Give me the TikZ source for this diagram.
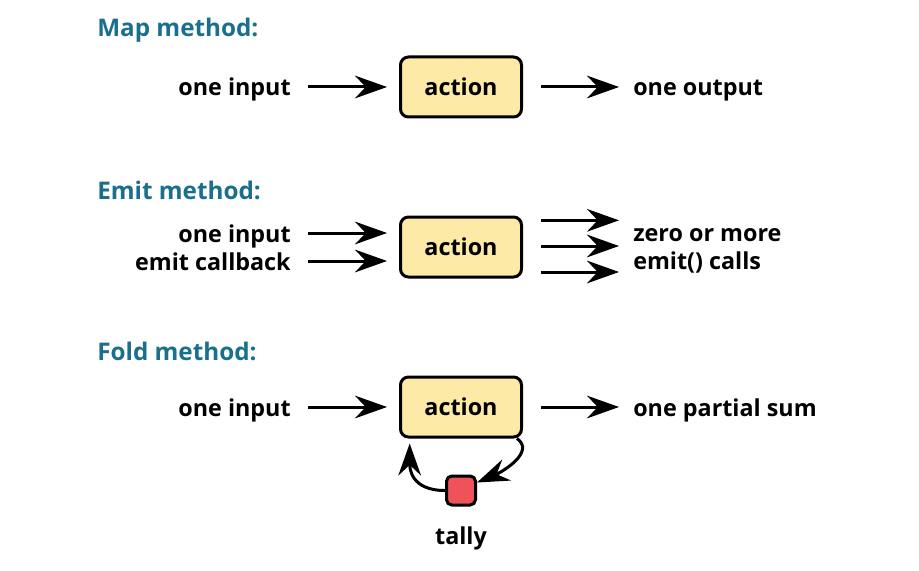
\documentclass[tikz,border=0pt]{standalone}
\usepackage{fontspec}
\setmainfont{Open Sans}
\usepackage{xcolor}
\usepackage{tikz}
\usetikzlibrary{positioning}
\usetikzlibrary{arrows.meta}

\definecolor{headblue}{RGB}{26,111,140}
\definecolor{boxyellow}{RGB}{253,234,166}
\definecolor{tallyred}{RGB}{240,82,90}

\tikzset{
	head/.style={anchor=west, inner sep=0pt, font=\fontsize{18.2}{22}\selectfont\bfseries, text=headblue},
	txt/.style={inner sep=0pt, font=\fontsize{17.5}{20}\selectfont\bfseries, text height=17.5pt, text depth=4pt},
	actbox/.style={draw, line width=2.25pt, rounded corners=6pt, fill=boxyellow,
		minimum width=90.75pt, minimum height=45pt, font=\fontsize{17.5}{20}\selectfont\bfseries},
	tallybox/.style={draw, line width=2.25pt, rounded corners=4pt, fill=tallyred, minimum size=21.75pt},
	arr/.style={line width=2.25pt, -{Stealth[length=24pt,width=17pt,inset=8pt]}},
	inarr/.style={arr, shorten <=12.75pt, shorten >=9pt},
	outarr/.style={arr, shorten <=13.5pt, shorten >=10.5pt}
}

\begin{document}
\begin{tikzpicture}[x=0.75pt, y=-0.75pt]
	\useasboundingbox (0,0) rectangle (919,570);

	% map
	\node[head] (maphead) at (97,30) {Map method:};
	\node[actbox] (map) at (461,87) {action};
	\node[txt] (mapin) [left=81pt of map] {one input};
	\node[txt] (mapout) [right=82.5pt of map] {one output};
	\draw[inarr] (mapin) -- (map);
	\draw[outarr] (map) -- (mapout);

	% emit
	\node[head] (emithead) at (97,190) {Emit method:};
	\node[actbox] (emit) at (461,247) {action};
	\node[txt, anchor=east] (emitin1) at ([xshift=-81pt, yshift=10.5pt]emit.west) {one input};
	\node[txt, anchor=east] (emitin2) at ([xshift=-81pt, yshift=-10.5pt]emit.west) {emit callback};
	\node[txt, anchor=west] (emitout1) at ([xshift=82.5pt, yshift=11pt]emit.east) {zero or more};
	\node[txt, anchor=west] (emitout2) at ([xshift=82.5pt, yshift=-10pt]emit.east) {emit() calls};
	\draw[inarr] (emitin1.east) -- (emitin1.east -| emit.west);
	\draw[inarr] (emitin2.east) -- (emitin2.east -| emit.west);
	\coordinate (o1) at ([yshift=20pt]emit.east);
	\coordinate (o2) at ([yshift=0.75pt]emit.east);
	\coordinate (o3) at ([yshift=-18.75pt]emit.east);
	\draw[outarr] (o1) -- (o1 -| emitout1.west);
	\draw[outarr] (o2) -- (o2 -| emitout1.west);
	\draw[outarr] (o3) -- (o3 -| emitout1.west);

	% fold
	\node[head] (foldhead) at (97,351) {Fold method:};
	\node[actbox] (fold) at (461,407) {action};
	\node[txt] (foldin) [left=81pt of fold] {one input};
	\node[txt] (foldout) [right=82.5pt of fold] {one partial sum};
	\draw[inarr] (foldin) -- (fold);
	\draw[outarr] (fold) -- (foldout);
	\node[tallybox] (tally) [below=27pt of fold] {};
	\node[txt] (tallylabel) [below=11pt of tally] {tally};
	\draw[arr] ([xshift=-4.5pt]fold.south east) .. controls +(14pt,-10pt) and +(19pt,8pt) .. ([yshift=6pt]tally.east);
	\draw[arr] (tally.west) .. controls +(-26pt,0pt) and +(0pt,-18pt) .. ([xshift=8pt,yshift=-3.75pt]fold.south west);
\end{tikzpicture}
\end{document}
